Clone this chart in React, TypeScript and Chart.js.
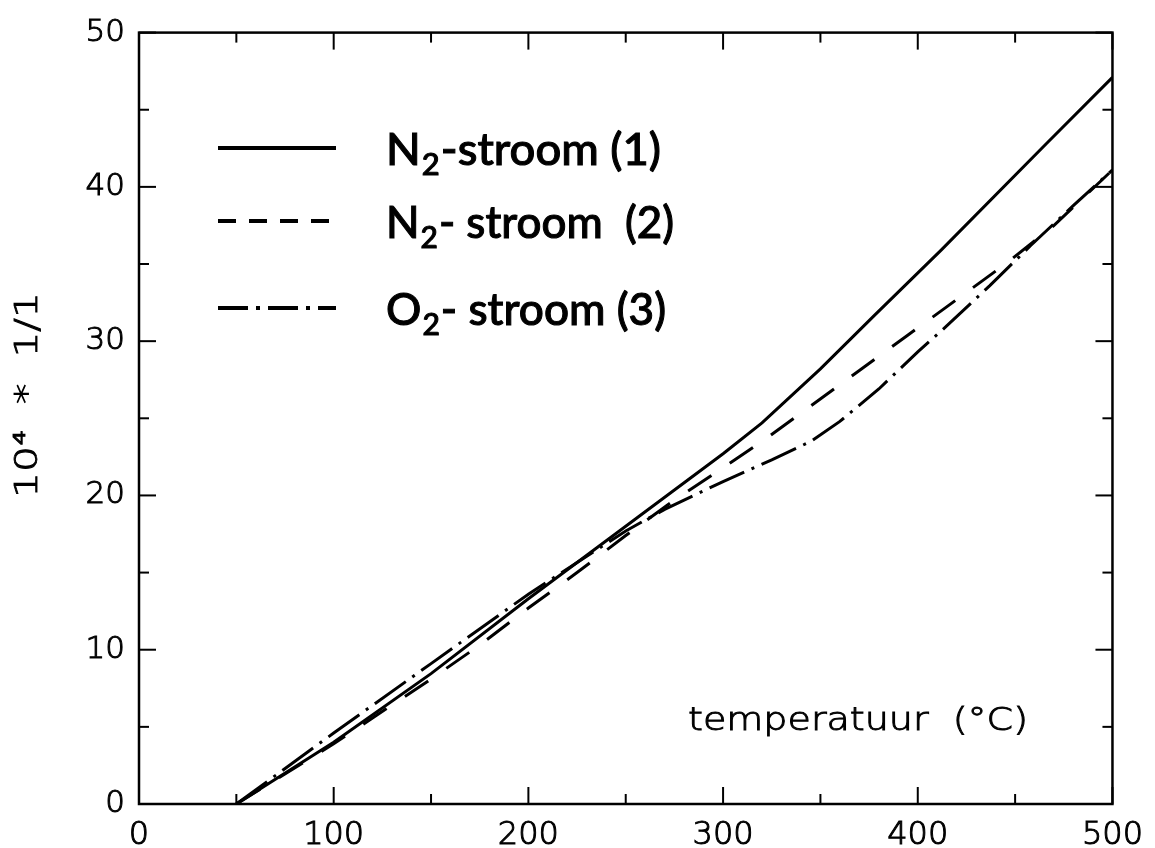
import React, { useEffect, useRef } from "react";
import { Chart, registerables } from "chart.js";

Chart.register(...registerables);

// ---- data ----
const temps1 = [50, 100, 150, 200, 250, 300, 320, 350, 378, 412, 466, 500];
const values1 = [0, 4.0, 8.45, 13.3, 18.0, 22.7, 24.7, 28.2, 31.7, 35.9, 42.8, 47.1];

const temps2 = [50, 100, 150, 175, 200, 225, 250, 275, 300, 320, 345, 370, 395, 420, 445, 470, 500];
const values2 = [0, 3.9, 8.1, 10.3, 12.7, 15.0, 17.4, 19.7, 21.8, 23.5, 25.8, 28.1, 30.4, 32.7, 35.0, 37.5, 41.1];

const temps3 = [50, 100, 150, 200, 250, 270, 300, 325, 345, 360, 380, 400, 415, 437, 458, 480, 500];
const values3 = [0, 4.6, 9.1, 13.6, 17.7, 19.1, 20.9, 22.3, 23.5, 24.8, 26.9, 29.3, 31.0, 33.6, 36.2, 38.8, 41.1];

const seriesNames = ["N2-stroom (1)", "N2-stroom (2)", "O2-stroom (3)"];
const legendParts = [
  ["N", "2", "-stroom (1)"],
  ["N", "2", "- stroom  (2)"],
  ["O", "2", "- stroom (3)"],
];

const xTickValues = [0, 100, 200, 300, 400, 500];
const xTickLabels = ["0", "100", "200", "300", "400", "500"];
const yTickValues = [0, 10, 20, 30, 40, 50];
const yTickLabels = ["0", "10", "20", "30", "40", "50"];

const xTitle = "temperatuur  (°C)";
const yTitle = "10⁴  *  1/1";

const X_MIN = 0, X_MAX = 500, X_MINOR = 50;
const Y_MIN = 0, Y_MAX = 50, Y_MINOR = 5;

const DASHED = [28, 22];
const DASHDOT = [38, 8, 3, 8];

function fitText(ctx: CanvasRenderingContext2D, text: string, x: number, y: number, width: number) {
  const w = ctx.measureText(text).width;
  ctx.save();
  ctx.translate(x, y);
  ctx.scale(width / w, 1);
  ctx.lineWidth = 0.9;
  ctx.strokeText(text, 0, 0);
  ctx.fillText(text, 0, 0);
  ctx.restore();
}

const decorPlugin = {
  id: "decor",
  afterDraw(chart: any) {
    const { ctx, chartArea: a, scales } = chart;
    const xs = scales.x;
    const ys = scales.y;
    ctx.save();
    ctx.strokeStyle = "#000";
    ctx.fillStyle = "#000";
    ctx.lineWidth = 2.5;
    ctx.setLineDash([]);
    ctx.strokeRect(a.left, a.top, a.right - a.left, a.bottom - a.top);

    const seg = (x1: number, y1: number, x2: number, y2: number) => {
      ctx.beginPath();
      ctx.moveTo(x1, y1);
      ctx.lineTo(x2, y2);
      ctx.stroke();
    };
    ctx.lineWidth = 2;
    for (let v = X_MIN; v <= X_MAX; v += X_MINOR) {
      const px = xs.getPixelForValue(v);
      const len = v % 100 === 0 ? 17 : 10;
      seg(px, a.bottom, px, a.bottom - len);
      seg(px, a.top, px, a.top + len);
    }
    for (let v = Y_MIN; v <= Y_MAX; v += Y_MINOR) {
      const py = ys.getPixelForValue(v);
      const len = v % 10 === 0 ? 17 : 10;
      seg(a.left, py, a.left + len, py);
      seg(a.right, py, a.right - len, py);
    }

    // legend (inside plot)
    const legendY = [148, 221, 308];
    const dashes = [[], [18, 13], [30, 8, 4, 8]];
    ctx.lineWidth = 4;
    for (let i = 0; i < 3; i++) {
      ctx.setLineDash(dashes[i]);
      seg(218, legendY[i], 336, legendY[i]);
    }
    ctx.setLineDash([]);
    const widths = [275, 288, 280];
    for (let i = 0; i < 3; i++) {
      const [m, s, r] = legendParts[i];
      const big = "500 44px Lato";
      const small = "500 30px Lato";
      ctx.font = big;
      const w1 = ctx.measureText(m).width;
      const w3 = ctx.measureText(r).width;
      ctx.font = small;
      const w2 = ctx.measureText(s).width;
      const k = widths[i] / (w1 + w2 + w3 + 2);
      ctx.save();
      ctx.translate(386, legendY[i]);
      ctx.scale(k, 1);
      ctx.textBaseline = "alphabetic";
      ctx.lineWidth = 1;
      ctx.font = big;
      ctx.fillText(m, 0, 17);
      ctx.strokeText(m, 0, 17);
      ctx.font = small;
      ctx.fillText(s, w1 + 1, 27);
      ctx.strokeText(s, w1 + 1, 27);
      ctx.font = big;
      ctx.fillText(r, w1 + w2 + 2, 17);
      ctx.strokeText(r, w1 + w2 + 2, 17);
      ctx.restore();
    }

    // x title inside plot area
    ctx.font = "200 32px 'DejaVu Sans'";
    ctx.textBaseline = "middle";
    ctx.textAlign = "left";
    fitText(ctx, xTitle, 688, 722, 340);

    // y title rotated
    ctx.save();
    ctx.translate(29, 395);
    ctx.rotate(-Math.PI / 2);
    ctx.textAlign = "left";
    ctx.textBaseline = "middle";
    ctx.font = "200 32px 'DejaVu Sans'";
    fitText(ctx, yTitle, -103, 0, 206);
    ctx.restore();

    ctx.restore();
  },
};

export default function App() {
  const ref = useRef<HTMLCanvasElement>(null);

  useEffect(() => {
    const mk = (t: number[], v: number[]) => t.map((x, i) => ({ x, y: v[i] }));
    const chart = new Chart(ref.current as HTMLCanvasElement, {
      type: "line",
      data: {
        datasets: [
          { label: seriesNames[0], data: mk(temps1, values1), borderColor: "#000", borderWidth: 3, borderDash: [] },
          { label: seriesNames[1], data: mk(temps2, values2), borderColor: "#000", borderWidth: 3, borderDash: DASHED },
          { label: seriesNames[2], data: mk(temps3, values3), borderColor: "#000", borderWidth: 3, borderDash: DASHDOT },
        ],
      },
      options: {
        animation: false,
        responsive: false,
        devicePixelRatio: 1,
        layout: { padding: { top: 29, right: 36, left: 0, bottom: 0 } },
        plugins: { legend: { display: false }, tooltip: { enabled: false } },
        elements: { point: { radius: 0 }, line: { tension: 0, borderCapStyle: "butt" } },
        scales: {
          x: {
            type: "linear",
            min: X_MIN,
            max: X_MAX,
            grid: { display: false, drawTicks: false },
            border: { display: false },
            afterBuildTicks: (s: any) => { s.ticks = xTickValues.map((value) => ({ value })); },
            afterFit: (s: any) => { s.height = 44; },
            ticks: {
              padding: 12,
              maxRotation: 0,
              color: "#000",
              textStrokeColor: "#000",
              textStrokeWidth: 1,
              font: { family: "'DejaVu Sans'", size: 32, weight: 200 },
              callback: (v: any) => xTickLabels[xTickValues.indexOf(Number(v))] ?? "",
            },
          },
          y: {
            type: "linear",
            min: Y_MIN,
            max: Y_MAX,
            grid: { display: false, drawTicks: false },
            border: { display: false },
            afterBuildTicks: (s: any) => { s.ticks = yTickValues.map((value) => ({ value })); },
            afterFit: (s: any) => { s.width = 139; },
            ticks: {
              padding: 14,
              color: "#000",
              textStrokeColor: "#000",
              textStrokeWidth: 1,
              font: { family: "'DejaVu Sans'", size: 31, weight: 200 },
              callback: (v: any) => yTickLabels[yTickValues.indexOf(Number(v))] ?? "",
            },
          },
        },
      },
      plugins: [decorPlugin],
    } as any);
    return () => chart.destroy();
  }, []);

  return (
    <div style={{ position: "fixed", left: 0, top: 0, width: 1155, height: 848, background: "#fff" }}>
      <canvas ref={ref} width={1155} height={848} style={{ display: "block", width: 1155, height: 848 }} />
    </div>
  );
}
